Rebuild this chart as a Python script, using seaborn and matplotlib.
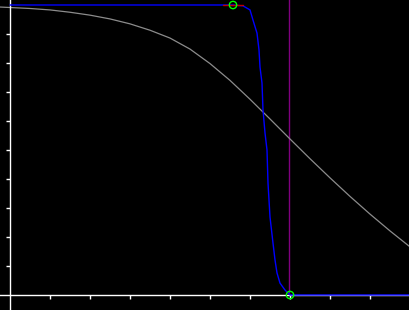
import numpy as np
import pandas as pd
import seaborn as sns
import matplotlib
matplotlib.use("Agg")
import matplotlib.pyplot as plt

# grey reference curve
grey_x = [-0.025, 0.05, 0.1, 0.15, 0.2, 0.25, 0.3, 0.35, 0.4, 0.45, 0.5,
          0.55, 0.6, 0.65, 0.7, 0.75, 0.8, 0.85, 0.9, 0.95, 1.0]
grey_y = [0.993, 0.988, 0.983, 0.975, 0.965, 0.952, 0.935, 0.913, 0.886, 0.848,
          0.798, 0.740, 0.675, 0.607, 0.538, 0.470, 0.404, 0.340, 0.279, 0.221,
          0.166]

# blue transition curve
blue_x = [0.0, 0.5575, 0.5825, 0.6, 0.6075, 0.6175, 0.6225, 0.625, 0.63, 0.6325,
          0.6375, 0.6425, 0.645, 0.65, 0.6575, 0.6625, 0.6675, 0.675, 0.6875, 0.7, 1.0]
blue_y = [1.0, 1.0, 0.997, 0.983, 0.948, 0.903, 0.845, 0.786, 0.731, 0.638,
          0.559, 0.5, 0.386, 0.269, 0.179, 0.121, 0.076, 0.041, 0.017, 0.0, 0.0]

# control points, handle and marker line
ctrl_x = [0.5575, 0.7]
ctrl_y = [1.0, 0.0]
handle_x = [0.5325, 0.5825]
handle_y = [1.0, 1.0]
marker_x = 0.698

ticks = [0.1, 0.2, 0.3, 0.4, 0.5, 0.6, 0.7, 0.8, 0.9]

sns.set_style("dark")
fig = plt.figure(figsize=(4.1, 3.1), dpi=100, facecolor="black")
ax = fig.add_axes([0, 0, 1, 1])
ax.set_facecolor("black")

ax.vlines(marker_x, 0, 1.1, color="#800080", lw=1, zorder=1)
sns.lineplot(x=grey_x, y=grey_y, ax=ax, color="#8c8c8c", lw=0.9, zorder=2)
blue = pd.DataFrame({"x": blue_x, "y": blue_y})
sns.lineplot(data=blue, x="x", y="y", ax=ax, color="#0000ff", lw=1.0,
             sort=False, estimator=None, zorder=4)
sns.lineplot(x=handle_x, y=handle_y, ax=ax, color="#c00000", lw=1.0, zorder=5)
sns.scatterplot(x=ctrl_x, y=ctrl_y, ax=ax, s=28, facecolor="none",
                edgecolor="#00ff00", linewidth=1.0, zorder=6)

ax.set_xlim(-0.025, 1.0)
ax.set_ylim(-15 / 290, 295 / 290)
ax.grid(False)
for side in ["top", "right"]:
    ax.spines[side].set_visible(False)
for side in ["left", "bottom"]:
    ax.spines[side].set_position(("data", 0))
    ax.spines[side].set_color("white")
    ax.spines[side].set_linewidth(1.0)
    ax.spines[side].set_zorder(3)
ax.set_xticks(ticks)
ax.set_yticks(ticks)
ax.set_xticklabels([])
ax.set_yticklabels([])
ax.tick_params(colors="white", direction="out", length=3, width=1,
               bottom=True, left=True)
ax.set_xlabel("")
ax.set_ylabel("")

fig.savefig("out.png", dpi=100, facecolor="black")
